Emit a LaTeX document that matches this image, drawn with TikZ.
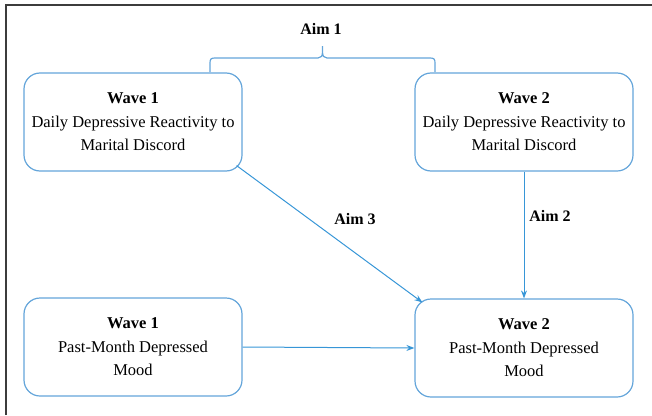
\documentclass[tikz,border=0pt]{standalone}
\usepackage{fontspec}
\setmainfont{Liberation Serif}
\usetikzlibrary{arrows.meta}
\definecolor{boxblue}{RGB}{100,165,218}
\definecolor{arrowblue}{RGB}{55,150,215}
\definecolor{framegray}{RGB}{60,60,60}
\begin{document}
\begin{tikzpicture}[x=1pt,y=-1pt,
  wavebox/.style={draw=boxblue,line width=1.2pt,rounded corners=16pt,minimum width=218pt,minimum height=98pt,align=center,inner sep=0pt,font=\fontsize{16.5}{23.5}\selectfont},
  conn/.style={draw=arrowblue,line width=1pt,-{Stealth[length=8pt,width=6pt]}},
  aimlabel/.style={font=\fontsize{16}{18}\selectfont\bfseries,inner sep=1pt}]
\useasboundingbox (0,0) rectangle (652,415);
\draw[framegray,line width=2pt] (6,415) -- (6,5) -- (652,5);
\node[wavebox] (tl) at (133,122) {\textbf{Wave 1}\\Daily Depressive Reactivity to\\Marital Discord};
\node[wavebox] (tr) at (524,122) {\textbf{Wave 2}\\Daily Depressive Reactivity to\\Marital Discord};
\node[wavebox] (bl) at (133,347) {\textbf{Wave 1}\\Past-Month Depressed\\Mood};
\node[wavebox] (br) at (524,348) {\textbf{Wave 2}\\Past-Month Depressed\\Mood};
\coordinate (s3) at ([xshift=-6pt,yshift=6pt]tl.south east);
\coordinate (e3) at ([xshift=8pt,yshift=-4pt]br.north west);
\draw[conn] (s3) -- (e3);
\draw[conn] (tr.south) -- (br.north);
\draw[conn] (bl.east) -- (br.west);
\node[aimlabel] (aim3) at (355,219) {Aim 3};
\node[aimlabel] (aim2) at (550,216) {Aim 2};
\node[aimlabel] (aim1) at (321,29) {Aim 1};
\coordinate (bra) at (210,72);
\coordinate (brb) at (435,72);
\draw[boxblue,line width=1.2pt] (bra) -- (210,63) .. controls (210,59) and (211,58) .. (215,58) -- (318,58) .. controls (321,58) and (322.5,56) .. (322.5,52) -- (322.5,46)
  (322.5,52) .. controls (322.5,56) and (324,58) .. (327,58) -- (430,58) .. controls (434,58) and (435,59) .. (435,63) -- (brb);
\end{tikzpicture}
\end{document}
